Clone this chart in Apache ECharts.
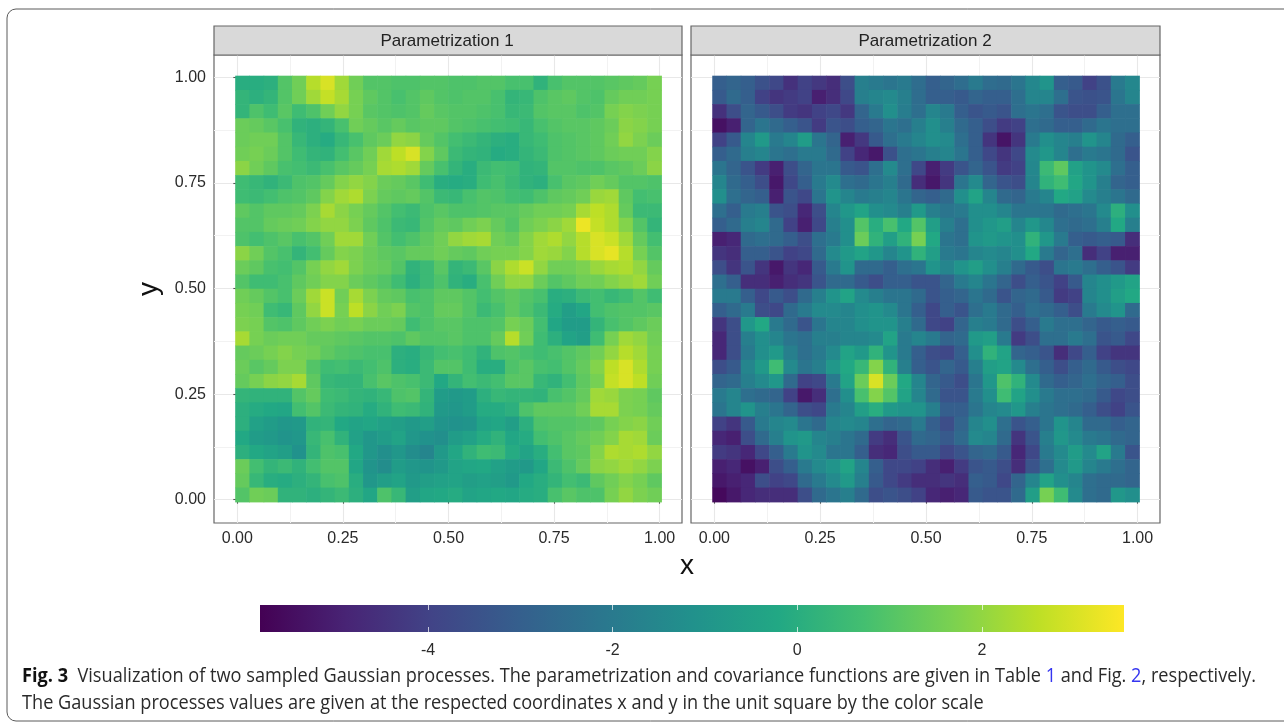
<!DOCTYPE html>
<html><head><meta charset="utf-8">
<style>html,body{margin:0;padding:0;background:#fff}#c{width:1284px;height:722px}</style>
<script src="https://cdn.jsdelivr.net/npm/echarts@6/dist/echarts.min.js"></script>
</head><body><div id="c"></div>
<script>
// Values, rows run from y=1 (top) to y=0 (bottom), 30 cells per row
const parametrization1 = [
[0,0,.1,1,1.5,2.5,3,2.2,1.5,1,1,.9,.9,1,1,.9,.9,1,1,.8,.8,.2,.8,1,1,1,1.1,1.2,1.3,1.6],
[.3,.1,.3,1,1.5,2.2,2.7,2.3,1.6,1.2,1,.8,1,1.2,1,.9,1,1,.8,.3,.4,.9,1.1,1.2,1,.9,1.3,1.5,1.5,1.6],
[.3,.9,.6,1.1,.6,.9,1.5,2,1.6,1.1,1,.9,1,1.3,1.1,1,1,.9,.8,.4,.5,1,1.1,1.1,.9,1,1.6,1.8,1.7,1.6],
[1.4,1.3,1.1,.8,.2,.1,.3,.8,1.5,1.3,1.1,1.3,1.1,1.2,1.2,1,.9,.8,.7,.6,.4,.8,1,1.1,1.1,1.2,1.4,1.9,1.8,1.6],
[1.4,1.5,1.5,1,.4,.1,-.1,.4,.8,1.2,1.4,2,1.9,1.3,1,.7,.5,.3,.1,0,.4,.6,.9,1,1.1,1.2,1.5,2,1.7,1.4],
[1.5,1.6,1.4,1,.6,.3,.2,.7,1.1,1.5,2.2,2.6,3,1.8,1.2,.5,.3,.2,-.1,0,.3,.5,.9,1,1.1,1.2,1.4,1.5,1.5,1.8],
[1.9,1.5,1.2,.8,.7,.5,.8,1.1,1.3,1.6,2.3,2.4,2.2,1.3,.8,.3,0,.5,.7,.6,.2,.3,1,1,.9,.9,1.1,1.2,1.4,1.9],
[.6,.4,.2,.5,.9,1,1.3,1.8,2,1.8,1.4,1.3,1.1,.6,0,-.1,0,.6,.8,.5,.2,.1,.8,1.1,1.2,1.5,1.3,1,1,.9],
[.6,.5,.7,.9,1,1.2,1.8,2.2,2.4,1.7,1.3,1.2,1.3,1,.5,.4,.8,1,.9,.7,.6,.9,1.2,1.3,1.5,2.1,2.2,1.2,.7,.8],
[1.2,1,1.2,1.2,1.3,1.7,2.3,1.9,1.6,1.3,1,.7,.5,.9,1.1,.9,.9,1,1.1,1.1,1.3,1.5,1.5,1.6,2.3,2.6,2.4,1.3,.5,.5],
[1,1,1.3,1.4,1.5,1.8,2,2,1.7,1.2,.9,.5,.4,1,1.3,1.2,1.5,1.7,1.3,1,1.5,1.7,1.9,2.2,3.3,2.7,2.4,1.8,1,.3],
[.9,.7,.9,1.1,.8,1,1.5,2.2,2.2,1.5,1,.7,.9,1.2,1.5,2,2.2,2.3,1.5,1.3,1.8,2.2,2.4,2,2.5,3,2.8,2.2,1.3,.7],
[1.9,1.5,1,.8,.3,.7,1.3,1.8,1.7,1.4,1.2,1.1,1.3,1.3,1.5,1.3,1.2,1.5,1.6,1.6,1.8,2.2,2.1,1.8,2.5,3,3.2,2.5,1.6,1],
[1.4,1.2,.8,.7,1,1.6,2,2.2,1.7,1.4,1.3,1,.2,.5,1.1,.3,.5,1.1,1.9,2.4,2.8,2,1.5,1.5,1.7,2.1,2.3,2.4,2,1.3],
[1,.6,.6,.8,1.2,1.5,1.8,1.8,1.4,1.2,1,.6,.1,.5,.9,.2,0,.8,1.5,2,2,1.4,1,1.2,1.5,1.5,1.8,2,2.2,1.5],
[1.5,1.3,1,.8,1.4,2.2,2.8,1.5,2.3,1.7,1.3,1.2,.8,.9,1.2,1.2,1,.7,1,1.2,1,.8,0,.1,.5,.7,.4,.6,1,.6],
[1.6,1.5,.6,.4,1.2,2,2.8,1.6,2.6,1.9,1.5,1.7,1,.9,1.3,1.3,1,.5,.8,1.2,.9,.5,-.1,-.6,-.3,.7,.9,1,1,1.1],
[1.7,1.6,1,.9,1.2,1.5,1.7,1.5,1.6,1.4,1.4,1.3,.6,.9,1.1,1.1,.9,.9,1,1.6,1.4,.7,-.3,-.7,-.7,.3,.8,1,1.2,1.4],
[2.3,1.6,1.4,1.5,1.5,1.3,1.3,1.2,1.1,1,1,.9,1.2,1,1,1.1,.9,.9,1.3,2.5,1.5,.6,.1,-.4,-.6,.6,1.6,2.2,2,1.5],
[1.3,1.4,1.6,1.8,1.6,1.5,1.2,1,.9,.8,.8,.1,0,.4,.7,.8,.6,.2,.9,1,.8,.6,.8,1,1.2,1.5,2,2.5,2.2,1.6],
[1.4,1.1,1.3,1.7,1.7,1,.6,.7,.5,.7,.9,.1,0,.5,1,1,.6,0,0,.9,1.1,.8,.7,1,1.3,1.8,2.6,3,2.4,1.6],
[1.3,1.6,1.9,2,2.3,1.2,.4,.3,.3,.8,1.1,.9,.8,.5,-.2,.3,.7,.5,.7,1.1,1.1,.4,.2,.7,1.2,1.6,2.7,3,2.6,1.5],
[.3,.2,.2,.2,1,1.3,.6,.5,.3,.2,.4,.9,1,.3,-.7,-.8,-.7,.1,.4,.3,.3,.2,.8,1,1.3,2.2,2.1,1.7,1.6,1.2],
[.1,-.1,-.2,-.3,.7,1,.5,.3,.2,-.1,.2,.6,.5,.2,-.8,-.9,-.7,-.1,-.1,.1,.9,1.2,1.2,1.2,1.5,2.3,2.3,1.7,1.6,1.3],
[.1,-.5,-.7,-.9,-.8,.2,.3,-.2,-.4,-.3,-.5,-.6,-.8,-.6,-1,-1.1,-1,-.4,-.3,-.6,.1,.9,1,1,1.1,1.2,1.6,1.8,1.9,1.5],
[-.2,-.7,-.8,-1,-.9,.4,.8,.2,-.5,-.9,-.7,-.4,-.9,-1.1,-1.2,-.7,-.5,-.1,.2,-.3,-.1,.7,.9,1.1,1.3,1.5,1.8,2.3,2.2,1.4],
[.1,-.2,-.4,-.6,-1.1,.3,.9,.8,-.2,-.9,-1.2,-.9,-1.3,-1.6,-.8,-.3,.2,.6,.5,-.1,-.4,0,.7,1.1,1.2,1.8,2.4,2.3,2.4,2],
[1.4,.7,.3,.5,.2,.7,1,1,-.3,-1,-1.3,-.7,-.9,-1,-.8,-.4,-.3,-.2,-.5,-.7,-.8,-.3,.5,.9,1.3,1.9,2,2.2,2,1.7],
[1.3,.4,0,-.1,.1,.3,.8,.9,0,-.9,-.6,-.4,-.8,-.6,-.5,-.4,-.6,-.5,-.6,-.8,-.2,0,.3,.7,.5,1.2,1.5,1.8,1.6,1.2],
[1,1.5,1.4,.2,.2,.1,.3,.5,.1,-.3,.9,.4,-.6,-.3,-.2,-.1,-.4,-.3,-.2,-.3,-.1,0,.8,1.1,.9,.9,1.6,2,1.7,1.5]
];
const parametrization2 = [
[-3,-2.8,-3,-3.5,-3.8,-4.5,-4,-4.3,-4.6,-3.6,-1.8,-2,-2.2,-2,-2.5,-3,-2.8,-2.5,-2,-2.5,-2.6,-2.2,-1.5,-1,-3,-3.2,-4,-3.5,-2,-1.5],
[-3.2,-2.6,-3,-4,-4.4,-4.2,-4,-5,-4.6,-3.8,-1.8,-1.6,-1.4,-1.8,-2.5,-3,-3,-3.2,-2.8,-3,-3,-2.4,-1.6,-1.6,-2.4,-3.4,-3.5,-3.4,-2.2,-1.6],
[-4.5,-3.6,-2.8,-3.2,-3.6,-4.2,-4.4,-4,-3.8,-4.3,-2.8,-2,-1.2,-1.9,-2.4,-1.6,-2,-3,-3.4,-3.2,-3.4,-2.4,-2.2,-2.4,-3.4,-3.6,-3.6,-3,-2.4,-2.4],
[-5.4,-5,-2.8,-2.2,-2.6,-3,-3.4,-4.2,-3.4,-3.6,-3,-2.8,-2.2,-2.4,-1.8,-1.2,-1.8,-2.6,-3,-3.6,-4.2,-4,-2.4,-2.6,-3,-3,-2.6,-2.2,-2.4,-2.4],
[-4,-3.2,-1.6,-.8,-2,-1.6,-.7,-2.2,-2.8,-5,-4.3,-3.2,-2.4,-2,-1.6,-1.2,-1.4,-2.4,-3,-4.4,-5.3,-4.4,-2,-1.2,-1.6,-1.8,-1,-1.6,-2.6,-3],
[-3,-2.6,-1.8,-1.6,-2.2,-2.4,-2,-2,-2.6,-4,-4.8,-5.2,-3.5,-2.4,-2.2,-1.8,-1.6,-2.2,-3,-3.8,-4.4,-3.8,-1.4,-.9,-1.6,-2.4,-2,-2.2,-2.6,-3.4],
[-2.2,-2.8,-3.4,-4.2,-5,-3.6,-2.8,-2.2,-2.2,-3.2,-3.4,-2.4,-1.4,-2.4,-3.8,-5,-4.2,-3.4,-2.8,-3.4,-4.2,-4,-1.5,.5,1.2,-.5,-1,-1.4,-2.4,-3],
[-1.6,-2.6,-3,-3.6,-5.2,-3.8,-3,-2,-1.4,-2.4,-2.6,-2.2,-1.8,-2.6,-4.6,-5.2,-4.4,-2.2,-1.4,-2.8,-3.4,-3.6,-1.6,.2,.6,-.3,-1,-1.8,-2.8,-3],
[-1.2,-2.4,-2.8,-3,-5,-3.4,-3.8,-2.2,-1,-1.6,-2,-1.8,-1.6,-2.2,-2.8,-3,-2.6,-1.2,-.4,-1.6,-2.6,-2.8,-2,-1.6,-.2,-.5,-1.4,-1.8,-2.2,-2.6],
[-2.4,-3,-2,-1.8,-3.4,-3.6,-4.8,-3.6,-1.6,-.9,-.4,-1.2,-1.4,-1.8,-.8,-1.8,-2.2,-2,-1.2,-1.2,-1.6,-2.2,-2.2,-2.2,-2.6,-2.4,-2.2,-1.4,.1,-1.2],
[-3,-2.6,-1.8,-1.6,-2.6,-4,-5,-3.8,-1.8,-1.2,1,0,.8,-.2,1,-.6,-1.8,-2.4,-1.2,-.9,-.6,-1.6,-.9,-1.5,-2.4,-2.6,-2.4,-1.8,-.2,-1.8],
[-5,-4.8,-2.6,-2.4,-2.6,-3,-3.6,-2.4,-2,-1.2,1.4,.2,-.6,.2,1.6,-.2,-2.2,-2.4,-1,-.8,-1,-1.2,.2,-.9,-2,-3,-3.2,-3,-3.2,-4.6],
[-4.4,-4.6,-3,-3,-3.4,-4,-3.8,-2.6,-1.4,-.8,-.4,-.9,-1.6,-1,.2,-.6,-2,-2.2,-1.6,-1.4,-1.6,-1.2,-.2,-2,-2.8,-2.4,-4.6,-4,-5,-5],
[-3.6,-4.4,-3.4,-4.4,-5.2,-4.4,-4.8,-3.2,-2,-1,-2.6,-2.6,-3,-2.4,-2.2,-1,-1.6,-1,-.6,-1.2,-1.8,-2.6,-3.2,-3.6,-2.2,-2,-2.4,-3,-3.4,-4.2],
[-2.4,-3,-4.6,-4.6,-5,-4.6,-4.4,-3.4,-2.6,-2.6,-3.2,-3.6,-3,-3,-3.4,-3.4,-2.8,-2,-1.6,-2.2,-2.8,-3.6,-3,-3.4,-4,-3.2,-1.6,-1.2,-.8,-.4],
[-2,-2,-3,-3.8,-3.2,-3.6,-2.6,-1.8,-1,-.4,-1.4,-1.8,-2.2,-2.2,-2.6,-3.4,-3,-2.8,-2.2,-2.6,-3.4,-2.8,-2.6,-3.2,-4.2,-4,-1.6,-1.2,-.6,-.2],
[-3,-2.6,-2,-3.6,-3.8,-2.6,-2,-1.4,-1.4,-1.6,-1.2,-1,-1.4,-2.2,-3,-3.8,-3,-3.4,-2.4,-2,-2.6,-3,-2.4,-2.6,-3,-3.6,-2,-1.4,-1,-2.6],
[-4.4,-3.6,-.9,-.2,-2,-2.6,-3.4,-2.2,-1.6,-1.6,-1.2,-1,-1,-1.8,-2.6,-3.8,-4,-2.8,-1.8,-2,-2.6,-3.6,-3,-2,-2.4,-2.4,-2.8,-3.2,-3,-3.2],
[-4.8,-3.6,-1.8,-1.2,-1.6,-2.2,-2.4,-1.8,-1.8,-1.6,-1.6,-1.4,-.4,-2,-1.6,-2,-2.8,-2.6,-.8,-.6,-2,-4.2,-3.6,-2.4,-2.4,-2,-2.4,-3.4,-3.2,-3.8],
[-4.8,-3.6,-2,-1.2,-.8,-1.8,-2.4,-2,-1.4,-.4,-.8,.2,-1,-2,-3,-3.6,-3.8,-3,-1.2,.2,-.4,-2.8,-3,-3.4,-4.6,-3.8,-3,-4,-4.4,-4.4],
[-3.6,-3.2,-1.6,-.8,.6,-1.4,-2.2,-1.8,-.9,-.2,.4,1.8,.2,-1.8,-3,-3.4,-2.8,-3.2,-1.8,-.6,-.4,-1.4,-2.4,-3,-3.6,-3,-2.6,-3.2,-3.6,-3.8],
[-2.8,-2.6,-1.8,-1.4,-.9,-2.6,-4,-3.8,-2,-.4,1.4,3,1.4,-.2,-1.6,-2.8,-3.2,-3.6,-2.2,-.9,.9,.2,-1.4,-2.6,-3,-2.8,-2.4,-2.8,-3,-3.6],
[-2,-1.6,-2.4,-2.6,-2.8,-4,-5.2,-4.6,-2.4,-1.2,.8,1.8,1,-.4,-1.6,-2.6,-3.4,-3.4,-2,-1.2,.6,-.4,-1.2,-2,-2.4,-2.4,-2.6,-3.2,-3.8,-3.6],
[-2.2,-1.6,-1,-1.8,-2.2,-2.8,-3.6,-3.8,-2,-1.6,-.6,0,-.8,-1,-1,-1.8,-3,-3,-2.2,-1.6,-1.4,-.9,-1.8,-2.2,-2.4,-2.6,-3,-3.6,-4,-3.4],
[-4,-4.4,-3.2,-2,-1.6,-1.4,-2.2,-2.6,-1.6,-1.4,-1.6,-2.4,-2.8,-2.6,-2,-3,-3.6,-2.8,-1.6,-1.2,-2.4,-3.4,-3,-2.2,-1,-1.6,-2.6,-2.6,-3,-2.8],
[-4.8,-5,-3.6,-2.6,-1.8,-1,-.8,-1.6,-1.8,-2.2,-2.6,-4.2,-4.6,-3.4,-2.6,-2.8,-3.2,-2.6,-1.4,-1.6,-2.6,-4.4,-3.4,-1.8,-.9,-1.4,-2,-2.2,-2.6,-2.8],
[-4.2,-4.4,-4.8,-3.8,-3,-2,-1,-1.4,-2.2,-2.2,-3,-4.6,-4.8,-3.6,-3.2,-3.2,-3.8,-3.4,-2.8,-2.6,-3.2,-4.8,-3.8,-2,-1.4,-.7,-1.4,-.4,-2,-3.4],
[-5,-4.8,-5.4,-5,-3.6,-3,-2,-1.4,-1,-.4,-1.6,-3,-3.8,-3.8,-4,-4.6,-5,-4.2,-3.4,-3.2,-3.6,-4.6,-3.4,-2.4,-1.4,-.8,-1.6,-2,-2.4,-2.8],
[-5.2,-5,-4.8,-3.6,-4,-3.8,-2.6,-2,-1.4,-.8,-1.8,-3.2,-3.8,-4.2,-4.6,-4.6,-4.4,-4.6,-3,-3.2,-3.8,-2.8,-1.6,-.4,-1.2,-1.6,-2.4,-2.6,-2.6,-2.8],
[-5.6,-5.2,-4.8,-4.6,-4.6,-4.6,-3.6,-2.6,-2.2,-1.8,-2.6,-3.6,-3.4,-3.6,-4,-4.8,-5,-4.8,-3.2,-3.4,-3.4,-2.6,-.6,1.6,.6,-1.4,-2.4,-2.6,-.9,-1.2]
];
const majorTicks = [0, 0.25, 0.5, 0.75, 1];
const minorTicks = [0.125, 0.375, 0.625, 0.875];
const legendTicks = [-4, -2, 0, 2];
const valueRange = [-5.82, 3.54];
const panelTitles = ['Parametrization 1', 'Parametrization 2'];
const viridis = ['#440154','#482475','#414487','#355f8d','#2a788e','#21918c','#22a884','#44bf70','#7ad151','#bddf26','#fde725'];

const FONT = '"Liberation Sans", Arial, sans-serif';
const CAP = '"Open Sans", "Noto Sans", sans-serif';
const rasterMin = -0.005, rasterMax = 1.004;
const axisMin = -0.0552, axisMax = 1.053;

function cells(rows) {
  const n = rows.length, w = (rasterMax - rasterMin) / n, out = [];
  rows.forEach((row, r) => row.forEach((v, c) => {
    out.push([rasterMin + (c + .5) * w, rasterMax - (r + .5) * w, v]);
  }));
  return out;
}
function renderCell(params, api) {
  const w = (rasterMax - rasterMin) / 30;
  const a = api.coord([api.value(0) - w / 2, api.value(1) + w / 2]);
  const b = api.coord([api.value(0) + w / 2, api.value(1) - w / 2]);
  return { type: 'rect', shape: { x: a[0], y: a[1], width: b[0] - a[0] + .6, height: b[1] - a[1] + .6 },
    style: { fill: api.visual('color') } };
}
const grids = [
  { left: 214, top: 55, width: 468, height: 468 },
  { left: 691, top: 55, width: 469, height: 468 },
  { left: 260, top: 605, width: 864, height: 27 }
].map(g => Object.assign(g, { show: true, backgroundColor: 'transparent', borderColor: '#666', borderWidth: 1.2, containLabel: false }));
grids[2].borderWidth = 0; grids[2].show = false;

function axis(kind, gridIndex, opt) {
  const major = opt.major;
  return {
    type: 'value', gridIndex, min: axisMin, max: axisMax, position: kind === 'x' ? 'bottom' : 'left',
    axisLine: { show: false },
    axisTick: { show: major && opt.labels, length: 4, lineStyle: { color: '#555', width: 1.1 }, customValues: major ? majorTicks : minorTicks },
    axisLabel: { show: major && opt.labels, customValues: major ? majorTicks : minorTicks, color: '#2a2a2a', fontFamily: FONT, fontSize: 16, margin: 8,
      formatter: v => v.toFixed(2) },
    splitLine: { show: true, lineStyle: { color: major ? '#e8e8e8' : '#f2f2f2', width: major ? 1.1 : 1 } }
  };
}
const xAxes = [
  axis('x', 0, { major: true, labels: true }), axis('x', 0, { major: false }),
  axis('x', 1, { major: true, labels: true }), axis('x', 1, { major: false })
];
const yAxes = [
  axis('y', 0, { major: true, labels: true }), axis('y', 0, { major: false }),
  axis('y', 1, { major: true, labels: false }), axis('y', 1, { major: false })
];
[...xAxes, ...yAxes].forEach(a => a.z = 0);
// colour bar axes
const barAxisCommon = { type: 'value', gridIndex: 2, min: valueRange[0], max: valueRange[1], z: 5, splitLine: { show: false }, axisLine: { show: false } };
xAxes.push(Object.assign({}, barAxisCommon, { position: 'bottom',
  axisTick: { show: true, inside: true, length: 5, customValues: legendTicks, lineStyle: { color: 'rgba(255,255,255,0.7)', width: 1 } },
  axisLabel: { show: true, customValues: legendTicks, color: '#2a2a2a', fontFamily: FONT, fontSize: 16, margin: 11, formatter: v => String(v) } }));
xAxes.push(Object.assign({}, barAxisCommon, { position: 'top',
  axisTick: { show: true, inside: true, length: 5, customValues: legendTicks, lineStyle: { color: 'rgba(255,255,255,0.7)', width: 1 } },
  axisLabel: { show: false } }));
yAxes.push({ type: 'value', gridIndex: 2, min: 0, max: 1, show: false });

const caption1 = '{b|Fig. 3}  Visualization of two sampled Gaussian processes. The parametrization and covariance functions are given in Table {l|1} and Fig. {l|2}, respectively.';
const caption2 = 'The Gaussian processes values are given at the respected coordinates x and y in the unit square by the color scale';
const capRich = { b: { fontFamily: CAP, fontWeight: 'bold', fontSize: 19.5, fill: '#111' }, l: { fontFamily: CAP, fontSize: 19.5, fill: '#3535f0' } };

const chart = echarts.init(document.getElementById('c'), null, { renderer: 'canvas' });
chart.setOption({
  animation: false,
  backgroundColor: '#fff',
  grid: grids,
  xAxis: xAxes,
  yAxis: yAxes,
  visualMap: { show: false, type: 'continuous', min: valueRange[0], max: valueRange[1], dimension: 2, seriesIndex: [0, 1], inRange: { color: viridis } },
  series: [
    { type: 'custom', coordinateSystem: 'cartesian2d', xAxisIndex: 0, yAxisIndex: 0, data: cells(parametrization1), renderItem: renderCell, silent: true, clip: false },
    { type: 'custom', coordinateSystem: 'cartesian2d', xAxisIndex: 2, yAxisIndex: 2, data: cells(parametrization2), renderItem: renderCell, silent: true, clip: false },
    { type: 'custom', coordinateSystem: 'cartesian2d', xAxisIndex: 4, yAxisIndex: 4, data: [[valueRange[0], valueRange[1]]], silent: true,
      renderItem: (p, api) => {
        const a = api.coord([api.value(0), 1]), b = api.coord([api.value(1), 0]);
        return { type: 'rect', shape: { x: a[0], y: a[1], width: b[0] - a[0], height: b[1] - a[1] },
          style: { fill: new echarts.graphic.LinearGradient(0, 0, 1, 0, viridis.map((c, i) => ({ offset: i / (viridis.length - 1), color: c }))) } };
      } }
  ],
  graphic: [
    { type: 'rect', z: 0, silent: true, shape: { x: 7, y: 9, width: 1320, height: 712, r: 9 }, style: { fill: 'none', stroke: '#5a5a5a', lineWidth: 1 } },
    { type: 'rect', z: 3, silent: true, shape: { x: 214, y: 26, width: 468, height: 29 }, style: { fill: '#d9d9d9', stroke: '#666', lineWidth: 1.2 } },
    { type: 'rect', z: 3, silent: true, shape: { x: 691, y: 26, width: 469, height: 29 }, style: { fill: '#d9d9d9', stroke: '#666', lineWidth: 1.2 } },
    { type: 'text', z: 4, silent: true, x: 447, y: 41.5, style: { text: panelTitles[0], font: '17px ' + FONT, fill: '#222', textAlign: 'center', textVerticalAlign: 'middle' } },
    { type: 'text', z: 4, silent: true, x: 925, y: 41.5, style: { text: panelTitles[1], font: '17px ' + FONT, fill: '#222', textAlign: 'center', textVerticalAlign: 'middle' } },
    { type: 'text', z: 4, silent: true, x: 687, y: 566, style: { text: 'x', font: '28px ' + FONT, fill: '#111', textAlign: 'center', textVerticalAlign: 'middle' } },
    { type: 'text', z: 4, silent: true, x: 149, y: 289, rotation: Math.PI / 2, style: { text: 'y', font: '28px ' + FONT, fill: '#111', textAlign: 'center', textVerticalAlign: 'middle' } },
    { type: 'text', z: 4, silent: true, x: 22, y: 676, scaleX: 0.931, style: { text: caption1, font: '19.5px ' + CAP, fill: '#2a2a2a', textVerticalAlign: 'middle', rich: capRich } },
    { type: 'text', z: 4, silent: true, x: 22, y: 703, scaleX: 0.931, style: { text: caption2, font: '19.5px ' + CAP, fill: '#2a2a2a', textVerticalAlign: 'middle' } }
  ]
});
</script></body></html>
